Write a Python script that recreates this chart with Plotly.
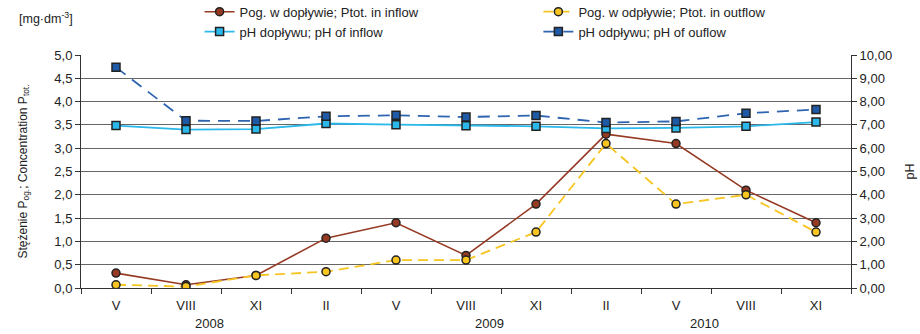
import plotly.graph_objects as go

categories = ["V", "VIII", "XI", "II", "V ", "VIII ", "XI ", "II ", "V  ", "VIII  ", "XI  "]
tick_labels = ["V", "VIII", "XI", "II", "V", "VIII", "XI", "II", "V", "VIII", "XI"]
years = ["2008", "2009", "2010"]
year_pos = [1.34, 5.34, 8.4]

p_inflow = [0.32, 0.07, 0.27, 1.07, 1.40, 0.70, 1.80, 3.30, 3.10, 2.10, 1.40]
p_outflow = [0.07, 0.03, 0.27, 0.35, 0.60, 0.60, 1.20, 3.10, 1.80, 2.00, 1.20]
ph_inflow = [6.97, 6.80, 6.82, 7.06, 7.01, 6.96, 6.94, 6.85, 6.87, 6.94, 7.12]
ph_outflow = [9.47, 7.18, 7.17, 7.37, 7.41, 7.34, 7.40, 7.10, 7.15, 7.50, 7.66]

font = "Liberation Sans, Arial, sans-serif"
txt = "#222222"
fig = go.Figure()

fig.add_trace(go.Scatter(
    x=categories, y=p_inflow, name="Pog. w dopływie; Ptot. in inflow",
    mode="lines+markers", line=dict(color="#963a24", width=1.6),
    marker=dict(symbol="circle", size=8, color="#963a24", line=dict(color="#222222", width=1.5)),
    yaxis="y", legend="legend"))
fig.add_trace(go.Scatter(
    x=categories, y=p_outflow, name="Pog. w odpływie; Ptot. in outflow",
    mode="lines+markers", line=dict(color="#f7c520", width=1.8, dash="10px,6px"),
    marker=dict(symbol="circle", size=8, color="#f7c520", line=dict(color="#222222", width=1.5)),
    yaxis="y", legend="legend2"))
fig.add_trace(go.Scatter(
    x=categories, y=ph_inflow, name="pH dopływu; pH of inflow",
    mode="lines+markers", line=dict(color="#2bb8ea", width=1.8),
    marker=dict(symbol="square", size=8, color="#2bb8ea", line=dict(color="#222222", width=1.5)),
    yaxis="y2", legend="legend"))
fig.add_trace(go.Scatter(
    x=categories, y=ph_outflow, name="pH odpływu; pH of ouflow",
    mode="lines+markers", line=dict(color="#2e64b0", width=1.8, dash="12px,8px"),
    marker=dict(symbol="square", size=8, color="#1f5aa6", line=dict(color="#222222", width=1.5)),
    yaxis="y2", legend="legend2"))

annotations = [
    dict(text=y, x=p, xref="x", y=-0.152, yref="paper", yanchor="middle", showarrow=False,
         font=dict(size=13, color=txt, family=font))
    for y, p in zip(years, year_pos)
]
annotations.append(dict(text="[mg·dm<sup>-3</sup>]", x=-0.083, xref="paper", xanchor="left",
                        y=1.159, yref="paper", yanchor="middle", showarrow=False,
                        font=dict(size=12.5, color=txt, family=font)))

leg_common = dict(orientation="v", yanchor="top", xanchor="left", tracegroupgap=0,
                  font=dict(size=13, family=font, color=txt), bgcolor="rgba(0,0,0,0)")

fig.update_layout(
    width=920, height=334,
    margin=dict(l=81, r=69, t=55, b=46, autoexpand=False),
    paper_bgcolor="white", plot_bgcolor="white",
    separators=", ",
    font=dict(family=font, size=13, color=txt),
    showlegend=True,
    legend=dict(x=0.154, y=1.25, **leg_common),
    legend2=dict(x=0.594, y=1.25, **leg_common),
    xaxis=dict(type="category", categoryorder="array", categoryarray=categories,
               tickvals=categories, ticktext=tick_labels,
               range=[-0.5, 10.5], tickson="boundaries", ticks="outside", ticklen=5,
               ticklabelstandoff=5,
               tickcolor="#333333", showline=True, linecolor="#333333", linewidth=1,
               showgrid=False, tickfont=dict(size=13, family=font, color=txt)),
    yaxis=dict(range=[0, 5], dtick=0.5, tickformat=".1f", ticks="outside", ticklen=5,
               tickcolor="#333333", showline=True, linecolor="#333333", linewidth=1,
               showgrid=True, gridcolor="#666666", gridwidth=1, zeroline=False,
               title=dict(text="Stężenie P<sub>og.</sub>; Concentration P<sub>tot.</sub>",
                          font=dict(size=12, family=font, color=txt), standoff=24),
               tickfont=dict(size=13, family=font, color=txt)),
    yaxis2=dict(range=[0, 10], dtick=1, tickformat=".2f", overlaying="y", side="right",
                ticks="outside", ticklen=5, tickcolor="#333333", showline=True,
                linecolor="#333333", linewidth=1, showgrid=False, zeroline=False,
                title=dict(text="pH", font=dict(size=12.5, family=font, color=txt), standoff=14),
                tickfont=dict(size=13, family=font, color=txt)),
    annotations=annotations,
)

fig.write_html("out.html", config={"displayModeBar": False},
               post_script="document.body.style.margin='0';document.body.style.overflow='hidden';")
